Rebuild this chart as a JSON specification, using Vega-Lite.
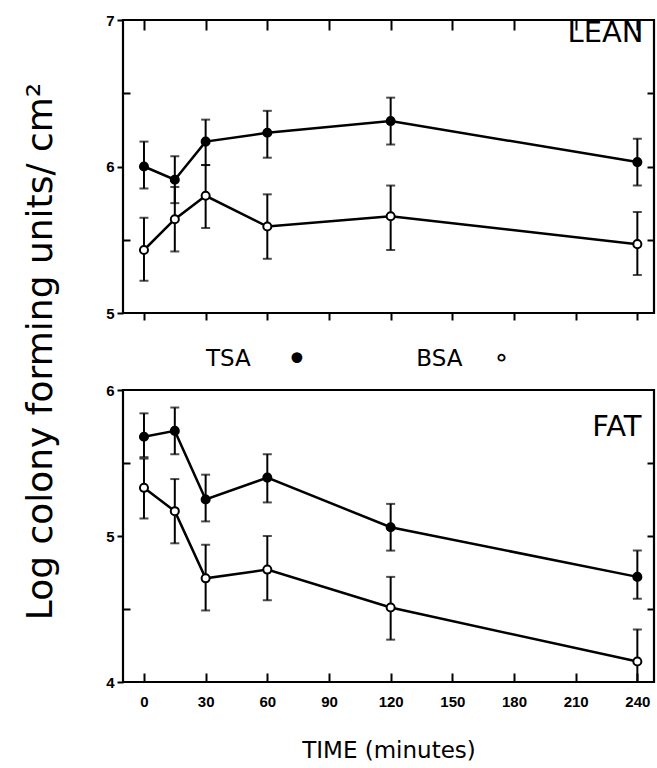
{
  "$schema": "https://vega.github.io/schema/vega-lite/v6.json",
  "padding": {"left": 20, "top": 11, "right": 0, "bottom": 0},
  "bounds": "flush",
  "spacing": 77,
  "config": {
    "view": {"stroke": "black", "strokeWidth": 2.2},
    "font": "DejaVu Sans",
    "axis": {"domain": false, "grid": false, "tickColor": "black", "tickWidth": 2, "labelFont": "Liberation Sans", "labelFontWeight": "bold", "labelFontSize": 15, "labelColor": "black", "titleColor": "black", "titleFontWeight": "normal"}
  },
  "datasets": {
    "d": [
      {"panel": "LEAN", "medium": "TSA", "t": 0, "v": 6.00, "lo": 5.85, "hi": 6.17},
      {"panel": "LEAN", "medium": "TSA", "t": 15, "v": 5.91, "lo": 5.75, "hi": 6.07},
      {"panel": "LEAN", "medium": "TSA", "t": 30, "v": 6.17, "lo": 6.01, "hi": 6.32},
      {"panel": "LEAN", "medium": "TSA", "t": 60, "v": 6.23, "lo": 6.06, "hi": 6.38},
      {"panel": "LEAN", "medium": "TSA", "t": 120, "v": 6.31, "lo": 6.15, "hi": 6.47},
      {"panel": "LEAN", "medium": "TSA", "t": 240, "v": 6.03, "lo": 5.87, "hi": 6.19},
      {"panel": "LEAN", "medium": "BSA", "t": 0, "v": 5.43, "lo": 5.22, "hi": 5.65},
      {"panel": "LEAN", "medium": "BSA", "t": 15, "v": 5.64, "lo": 5.42, "hi": 5.86},
      {"panel": "LEAN", "medium": "BSA", "t": 30, "v": 5.80, "lo": 5.58, "hi": 6.01},
      {"panel": "LEAN", "medium": "BSA", "t": 60, "v": 5.59, "lo": 5.37, "hi": 5.81},
      {"panel": "LEAN", "medium": "BSA", "t": 120, "v": 5.66, "lo": 5.43, "hi": 5.87},
      {"panel": "LEAN", "medium": "BSA", "t": 240, "v": 5.47, "lo": 5.26, "hi": 5.69},
      {"panel": "FAT", "medium": "TSA", "t": 0, "v": 5.68, "lo": 5.54, "hi": 5.84},
      {"panel": "FAT", "medium": "TSA", "t": 15, "v": 5.72, "lo": 5.56, "hi": 5.88},
      {"panel": "FAT", "medium": "TSA", "t": 30, "v": 5.25, "lo": 5.10, "hi": 5.42},
      {"panel": "FAT", "medium": "TSA", "t": 60, "v": 5.40, "lo": 5.23, "hi": 5.56},
      {"panel": "FAT", "medium": "TSA", "t": 120, "v": 5.06, "lo": 4.90, "hi": 5.22},
      {"panel": "FAT", "medium": "TSA", "t": 240, "v": 4.72, "lo": 4.57, "hi": 4.90},
      {"panel": "FAT", "medium": "BSA", "t": 0, "v": 5.33, "lo": 5.12, "hi": 5.53},
      {"panel": "FAT", "medium": "BSA", "t": 15, "v": 5.17, "lo": 4.95, "hi": 5.39},
      {"panel": "FAT", "medium": "BSA", "t": 30, "v": 4.71, "lo": 4.49, "hi": 4.94},
      {"panel": "FAT", "medium": "BSA", "t": 60, "v": 4.77, "lo": 4.56, "hi": 5.00},
      {"panel": "FAT", "medium": "BSA", "t": 120, "v": 4.51, "lo": 4.29, "hi": 4.72},
      {"panel": "FAT", "medium": "BSA", "t": 240, "v": 4.14, "lo": 3.92, "hi": 4.36}
    ],
    "labels": [
      {"panel": "LEAN", "label": "LEAN"},
      {"panel": "FAT", "label": "FAT"}
    ]
  },
  "vconcat": [
    {
      "width": 531,
      "height": 293,
      "layer": [
        {
          "data": {"name": "d"},
          "transform": [{"filter": "datum.panel === 'LEAN'"}],
          "mark": {"type": "rule", "strokeWidth": 2, "color": "black", "clip": true},
          "encoding": {
            "x": {"field": "t", "type": "quantitative", "scale": {"domain": [-10.2, 248.1], "nice": false, "zero": false},
                  "axis": {"values": [0, 30, 60, 90, 120, 150, 180, 210, 240], "labels": false, "tickSize": 7, "title": null}},
            "y": {"field": "lo", "type": "quantitative", "scale": {"domain": [5, 7], "nice": false, "zero": false},
                  "axis": {"values": [5, 5.5, 6, 6.5, 7],
                           "tickSize": {"condition": {"test": "datum.value % 1 !== 0", "value": -7}, "value": 6},
                           "labelExpr": "datum.value % 1 === 0 ? format(datum.value, 'd') : ''",
                           "labelPadding": 3,
                           "title": "Log colony forming units/ cm²",
                           "titleFont": "DejaVu Sans", "titleFontSize": 36, "titleAngle": 270,
                           "titleX": -72, "titleY": 331, "titleAlign": "center", "titleBaseline": "alphabetic"}},
            "y2": {"field": "hi"}
          }
        },
        {
          "data": {"name": "d"},
          "transform": [{"filter": "datum.panel === 'LEAN'"}],
          "mark": {"type": "tick", "orient": "horizontal", "size": 9, "thickness": 2, "color": "black", "clip": true},
          "encoding": {
            "x": {"field": "t", "type": "quantitative", "axis": null},
            "y": {"field": "lo", "type": "quantitative", "axis": null}
          }
        },
        {
          "data": {"name": "d"},
          "transform": [{"filter": "datum.panel === 'LEAN'"}],
          "mark": {"type": "tick", "orient": "horizontal", "size": 9, "thickness": 2, "color": "black", "clip": true},
          "encoding": {
            "x": {"field": "t", "type": "quantitative", "axis": null},
            "y": {"field": "hi", "type": "quantitative", "axis": null}
          }
        },
        {
          "data": {"name": "d"},
          "transform": [{"filter": "datum.panel === 'LEAN'"}],
          "mark": {"type": "line", "strokeWidth": 2.5, "color": "black"},
          "encoding": {
            "x": {"field": "t", "type": "quantitative",
                  "axis": {"values": [0, 30, 60, 90, 120, 150, 180, 210, 240], "labels": false, "tickSize": -10, "title": null}},
            "y": {"field": "v", "type": "quantitative",
                  "axis": {"orient": "right", "values": [5.5, 6, 6.5], "labels": false, "tickSize": -7, "title": null}},
            "detail": {"field": "medium"}
          }
        },
        {
          "data": {"name": "d"},
          "transform": [{"filter": "datum.panel === 'LEAN'"}],
          "mark": {"type": "point", "shape": "circle", "filled": true, "stroke": "black", "strokeWidth": 2, "size": 65, "opacity": 1},
          "encoding": {
            "x": {"field": "t", "type": "quantitative", "axis": null},
            "y": {"field": "v", "type": "quantitative", "axis": null},
            "fill": {"field": "medium", "type": "nominal", "scale": {"domain": ["TSA", "BSA"], "range": ["black", "white"]}, "legend": null}
          }
        },
        {
          "data": {"name": "labels"},
          "transform": [{"filter": "datum.panel === 'LEAN'"}],
          "mark": {"type": "text", "align": "right", "baseline": "middle", "fontSize": 29, "font": "DejaVu Sans", "color": "black"},
          "encoding": {
            "x": {"datum": 243, "type": "quantitative", "axis": null},
            "y": {"datum": 6.913, "type": "quantitative", "axis": null},
            "text": {"field": "label"}
          }
        }
      ],
      "resolve": {"axis": {"x": "independent", "y": "independent"}}
    },
    {
      "width": 531,
      "height": 292,
      "title": {"text": "TSA\u00a0\u00a0\u00a0\u00a0\u00a0⚫\u00a0\u00a0\u00a0\u00a0\u00a0\u00a0\u00a0\u00a0\u00a0\u00a0\u00a0\u00a0\u00a0\u00a0\u00a0BSA\u00a0\u00a0\u00a0\u00a0⚬", "anchor": "start", "frame": "group", "dx": 83, "fontSize": 23, "font": "DejaVu Sans", "fontWeight": "normal", "baseline": "middle", "offset": 1, "color": "black"},
      "layer": [
        {
          "data": {"name": "d"},
          "transform": [{"filter": "datum.panel === 'FAT'"}],
          "mark": {"type": "rule", "strokeWidth": 2, "color": "black", "clip": true},
          "encoding": {
            "x": {"field": "t", "type": "quantitative", "scale": {"domain": [-10.2, 248.1], "nice": false, "zero": false},
                  "axis": {"values": [0, 30, 60, 90, 120, 150, 180, 210, 240], "tickSize": -9, "labelPadding": 21,
                           "title": "TIME (minutes)", "titleFont": "DejaVu Sans", "titleFontSize": 23, "titlePadding": 30}},
            "y": {"field": "lo", "type": "quantitative", "scale": {"domain": [4, 6], "nice": false, "zero": false},
                  "axis": {"values": [4, 4.5, 5, 5.5, 6],
                           "tickSize": {"condition": {"test": "datum.value % 1 !== 0", "value": -7}, "value": 6},
                           "labelExpr": "datum.value % 1 === 0 ? format(datum.value, 'd') : ''",
                           "labelPadding": 3,
                           "title": null}},
            "y2": {"field": "hi"}
          }
        },
        {
          "data": {"name": "d"},
          "transform": [{"filter": "datum.panel === 'FAT'"}],
          "mark": {"type": "tick", "orient": "horizontal", "size": 9, "thickness": 2, "color": "black", "clip": true},
          "encoding": {
            "x": {"field": "t", "type": "quantitative", "axis": null},
            "y": {"field": "lo", "type": "quantitative", "axis": null}
          }
        },
        {
          "data": {"name": "d"},
          "transform": [{"filter": "datum.panel === 'FAT'"}],
          "mark": {"type": "tick", "orient": "horizontal", "size": 9, "thickness": 2, "color": "black", "clip": true},
          "encoding": {
            "x": {"field": "t", "type": "quantitative", "axis": null},
            "y": {"field": "hi", "type": "quantitative", "axis": null}
          }
        },
        {
          "data": {"name": "d"},
          "transform": [{"filter": "datum.panel === 'FAT'"}],
          "mark": {"type": "line", "strokeWidth": 2.5, "color": "black"},
          "encoding": {
            "x": {"field": "t", "type": "quantitative", "axis": null},
            "y": {"field": "v", "type": "quantitative",
                  "axis": {"orient": "right", "values": [4.5, 5, 5.5], "labels": false, "tickSize": -7, "title": null}},
            "detail": {"field": "medium"}
          }
        },
        {
          "data": {"name": "d"},
          "transform": [{"filter": "datum.panel === 'FAT'"}],
          "mark": {"type": "point", "shape": "circle", "filled": true, "stroke": "black", "strokeWidth": 2, "size": 65, "opacity": 1},
          "encoding": {
            "x": {"field": "t", "type": "quantitative", "axis": null},
            "y": {"field": "v", "type": "quantitative", "axis": null},
            "fill": {"field": "medium", "type": "nominal", "scale": {"domain": ["TSA", "BSA"], "range": ["black", "white"]}, "legend": null}
          }
        },
        {
          "data": {"name": "labels"},
          "transform": [{"filter": "datum.panel === 'FAT'"}],
          "mark": {"type": "text", "align": "right", "baseline": "middle", "fontSize": 29, "font": "DejaVu Sans", "color": "black"},
          "encoding": {
            "x": {"datum": 242, "type": "quantitative", "axis": null},
            "y": {"datum": 5.75, "type": "quantitative", "axis": null},
            "text": {"field": "label"}
          }
        }
      ],
      "resolve": {"axis": {"x": "independent", "y": "independent"}}
    }
  ]
}
